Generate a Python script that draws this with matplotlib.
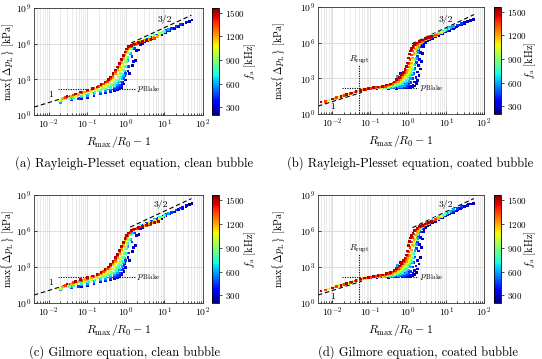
import matplotlib
matplotlib.use("Agg")
import matplotlib.pyplot as plt
from matplotlib.colors import Normalize
from matplotlib.ticker import LogLocator, NullFormatter, NullLocator, FixedLocator

plt.rcParams.update({
    "font.family": "serif",
    "font.serif": ["cmr10", "DejaVu Serif"],
    "mathtext.fontset": "cm",
    "axes.formatter.use_mathtext": True,
    "axes.unicode_minus": False,
})

# ---------------- data ----------------
FREQS = [250, 350, 450, 600, 750, 900, 1050, 1200, 1350, 1500]   # kHz
CBAR_TICKS = [300, 600, 900, 1200, 1500]
X_TICKS = [1e-2, 1e-1, 1e0, 1e1, 1e2]
Y_TICKS = [1e0, 1e3, 1e6, 1e9]
CAPTIONS = ["(a) Rayleigh-Plesset equation, clean bubble",
            "(b) Rayleigh-Plesset equation, coated bubble",
            "(c) Gilmore equation, clean bubble",
            "(d) Gilmore equation, coated bubble"]

# (a) Rayleigh-Plesset, clean bubble
a250_x = [0.1, 0.15, 0.22, 0.3, 0.4, 0.5, 0.6, 0.7, 0.8, 0.9, 1.0, 1.25, 1.5, 1.75, 2.2, 2.8, 3.6, 4.8, 6.3, 8.3, 11, 14, 18, 23, 29, 36, 44, 52]
a250_y = [30, 42, 58, 75, 95, 115, 140, 170, 220, 400, 900, 3e3, 1.5e4, 4e4, 3e5, 1e6, 1.7e6, 2.6e6, 3.9e6, 5.8e6, 8.8e6, 1.3e7, 1.9e7, 2.8e7, 4e7, 5.6e7, 7.6e7, 9.8e7]
a350_x = [0.07, 0.1, 0.15, 0.22, 0.3, 0.4, 0.5, 0.6, 0.7, 0.78, 0.85, 0.95, 1.15, 1.6, 1.9, 2.4, 3.1, 4, 5.3, 7, 9.5, 13, 17, 23, 30, 38]
a350_y = [25, 32, 45, 60, 78, 100, 125, 155, 200, 300, 600, 2e3, 5e3, 3e4, 2.5e5, 9e5, 1.6e6, 2.4e6, 3.6e6, 5.4e6, 8.5e6, 1.35e7, 2e7, 3.1e7, 4.6e7, 6.5e7]
a450_x = [0.04, 0.06, 0.1, 0.15, 0.22, 0.3, 0.4, 0.5, 0.6, 0.7, 0.8, 0.9, 1.0, 1.2, 1.45, 1.7, 2.1, 2.7, 3.5, 4.7, 6.2, 8, 11, 15, 20, 26]
a450_y = [18, 24, 36, 50, 68, 88, 115, 150, 200, 300, 550, 1200, 3e3, 1.2e4, 8e4, 4e5, 1e6, 1.6e6, 2.3e6, 3.5e6, 5.2e6, 7.5e6, 1.2e7, 1.9e7, 2.9e7, 4.3e7]
a600_x = [0.02, 0.04, 0.07, 0.1, 0.15, 0.22, 0.3, 0.4, 0.5, 0.6, 0.7, 0.8, 0.88, 0.96, 1.05, 1.15, 1.3, 1.5, 1.8, 2.3, 3, 4, 5.5, 7.5, 10, 13]
a600_y = [12, 22, 33, 45, 62, 85, 115, 160, 230, 350, 600, 1100, 2200, 5e3, 1.3e4, 4e4, 1.5e5, 4.5e5, 9e5, 1.45e6, 2.1e6, 3.1e6, 4.8e6, 7.5e6, 1.1e7, 1.6e7]
a750_x = [0.045, 0.07, 0.11, 0.16, 0.23, 0.31, 0.4, 0.5, 0.58, 0.66, 0.74, 0.82, 0.9, 0.98, 1.06, 1.15, 1.25, 1.4, 1.6, 1.9, 2.4, 3.1, 4.2, 5.6, 7.5, 10]
a750_y = [28, 40, 58, 80, 110, 150, 210, 320, 500, 850, 1500, 2800, 5500, 1.2e4, 3e4, 7e4, 1.6e5, 3.5e5, 6.5e5, 1e6, 1.5e6, 2.1e6, 3.1e6, 4.6e6, 7e6, 1.05e7]
a900_x = [0.022, 0.035, 0.055, 0.085, 0.13, 0.19, 0.26, 0.34, 0.42, 0.5, 0.58, 0.66, 0.74, 0.82, 0.9, 0.98, 1.07, 1.17, 1.3, 1.5, 1.8, 2.3, 3, 4, 5.5, 7.5, 9]
a900_y = [16, 25, 38, 58, 85, 120, 170, 240, 350, 550, 900, 1600, 3e3, 6e3, 1.3e4, 3e4, 7e4, 1.6e5, 3.5e5, 6.5e5, 1e6, 1.5e6, 2.1e6, 3e6, 4.5e6, 7e6, 8.5e6]
a1050_x = [0.019, 0.03, 0.05, 0.08, 0.12, 0.17, 0.23, 0.3, 0.37, 0.45, 0.53, 0.61, 0.69, 0.77, 0.85, 0.93, 1.02, 1.12, 1.25, 1.45, 1.8, 2.3, 3, 4, 5.5, 7.5]
a1050_y = [15, 24, 38, 60, 90, 130, 190, 290, 450, 750, 1300, 2500, 5e3, 1e4, 2.2e4, 5e4, 1.2e5, 2.8e5, 5e5, 8e5, 1.15e6, 1.55e6, 2.1e6, 2.9e6, 4.2e6, 6.2e6]
a1200_x = [0.024, 0.04, 0.06, 0.09, 0.13, 0.18, 0.24, 0.31, 0.38, 0.46, 0.54, 0.62, 0.7, 0.78, 0.87, 0.96, 1.06, 1.2, 1.4, 1.75, 2.3, 3, 4, 5.2, 6.5]
a1200_y = [22, 35, 55, 85, 130, 190, 290, 480, 800, 1500, 3e3, 6e3, 1.2e4, 2.5e4, 5.5e4, 1.2e5, 2.5e5, 4.5e5, 7e5, 1e6, 1.35e6, 1.8e6, 2.4e6, 3.2e6, 4e6]
a1350_x = [0.028, 0.045, 0.07, 0.1, 0.15, 0.2, 0.26, 0.33, 0.4, 0.47, 0.55, 0.63, 0.71, 0.8, 0.9, 1.0, 1.12, 1.3, 1.6, 2.0, 2.6, 3.4, 4.4, 5.5]
a1350_y = [30, 48, 75, 110, 170, 250, 400, 700, 1200, 2200, 4500, 9e3, 2e4, 4.5e4, 1e5, 2e5, 3.5e5, 6e5, 8.5e5, 1.1e6, 1.4e6, 1.8e6, 2.3e6, 2.9e6]
a1500_x = [0.03, 0.05, 0.066, 0.1, 0.14, 0.18, 0.23, 0.29, 0.35, 0.4, 0.47, 0.55, 0.62, 0.7, 0.78, 0.86, 0.95, 1.05, 1.2, 1.4, 1.7, 2.1, 2.7, 3.5, 4.5]
a1500_y = [38, 58, 85, 130, 180, 230, 350, 600, 1000, 1600, 3e3, 6e3, 1.1e4, 2.2e4, 4.5e4, 1e5, 2e5, 3.5e5, 5.5e5, 7.5e5, 9.5e5, 1.2e6, 1.5e6, 1.9e6, 2.4e6]

# (b) Rayleigh-Plesset, coated bubble
b250_x = [0.3, 0.5, 0.7, 0.9, 1.1, 1.3, 1.5, 1.65, 1.8, 1.95, 2.1, 2.25, 2.4, 2.6, 2.85, 3.2, 3.7, 4.4, 5.3, 6.5, 8, 10, 12.5, 15.5, 19.5, 24, 30, 37, 45, 52, 1.0, 1.02, 1.04]
b250_y = [140, 148, 155, 162, 170, 185, 230, 350, 700, 1800, 6e3, 2.5e4, 1.2e5, 5e5, 1e6, 1.4e6, 1.8e6, 2.4e6, 3.1e6, 4.2e6, 5.8e6, 8e6, 1.12e7, 1.55e7, 2.2e7, 3e7, 4.2e7, 5.7e7, 7.5e7, 8.6e7, 400, 1000, 2600]
b350_x = [0.15, 0.3, 0.5, 0.7, 0.9, 1.05, 1.2, 1.35, 1.5, 1.62, 1.75, 1.88, 2.0, 2.15, 2.3, 2.5, 2.75, 3.1, 3.6, 4.2, 5, 6, 7.3, 9, 11, 13.5, 16.5, 20.5, 25, 31, 38, 0.6, 0.62, 0.64]
b350_y = [140, 150, 158, 165, 172, 185, 210, 280, 500, 1200, 3500, 1.2e4, 4e4, 1.5e5, 4.5e5, 9e5, 1.3e6, 1.75e6, 2.3e6, 2.8e6, 3.6e6, 4.6e6, 6e6, 8e6, 1.07e7, 1.45e7, 1.95e7, 2.7e7, 3.6e7, 4.9e7, 6.5e7, 400, 1000, 2500]
b450_x = [0.1, 0.2, 0.3, 0.42, 0.55, 0.68, 0.8, 0.92, 1.04, 1.16, 1.28, 1.4, 1.52, 1.64, 1.76, 1.9, 2.05, 2.25, 2.5, 2.85, 3.3, 3.9, 4.7, 5.7, 7, 8.6, 10.5, 13, 16, 20, 25, 0.78, 0.8, 0.82]
b450_y = [135, 150, 158, 165, 172, 180, 195, 220, 280, 450, 1000, 2500, 7e3, 2.2e4, 7e4, 2.2e5, 5e5, 8.5e5, 1.2e6, 1.65e6, 2.2e6, 2.9e6, 3.8e6, 5e6, 6.7e6, 9e6, 1.22e7, 1.65e7, 2.25e7, 3.1e7, 4.3e7, 450, 1200, 3000]
b600_x = [0.06, 0.1, 0.16, 0.24, 0.34, 0.45, 0.56, 0.68, 0.8, 0.92, 1.04, 1.16, 1.28, 1.4, 1.52, 1.64, 1.76, 1.9, 2.05, 2.25, 2.5, 2.85, 3.3, 3.9, 4.7, 5.7, 7, 8.6, 10.5, 13, 16, 0.5, 0.52]
b600_y = [100, 138, 152, 160, 168, 178, 192, 215, 260, 350, 550, 1000, 2200, 5500, 1.5e4, 4.5e4, 1.4e5, 3.8e5, 7e5, 1e6, 1.35e6, 1.8e6, 2.4e6, 3.2e6, 4.2e6, 5.5e6, 7.4e6, 9.8e6, 1.32e7, 1.8e7, 2.45e7, 500, 1400]
b750_x = [0.04, 0.07, 0.1, 0.15, 0.22, 0.3, 0.4, 0.5, 0.6, 0.7, 0.8, 0.9, 1.0, 1.1, 1.2, 1.3, 1.4, 1.5, 1.62, 1.75, 1.9, 2.1, 2.35, 2.7, 3.1, 3.7, 4.4, 5.3, 6.5, 8, 10, 12]
b750_y = [70, 115, 140, 155, 165, 178, 195, 225, 270, 350, 480, 700, 1000, 1600, 2800, 5500, 1.3e4, 4e4, 1.2e5, 3e5, 6e5, 9.5e5, 1.3e6, 1.75e6, 2.25e6, 2.95e6, 3.8e6, 4.9e6, 6.5e6, 8.7e6, 1.18e7, 1.55e7]
b900_x = [0.02, 0.035, 0.06, 0.09, 0.13, 0.18, 0.25, 0.33, 0.42, 0.52, 0.62, 0.72, 0.82, 0.92, 1.0, 1.08, 1.16, 1.24, 1.33, 1.43, 1.55, 1.7, 1.9, 2.15, 2.5, 2.95, 3.5, 4.2, 5.1, 6.2, 7.6, 9.3]
b900_y = [35, 60, 100, 130, 148, 162, 180, 205, 245, 310, 420, 600, 900, 1300, 1800, 2600, 4000, 6500, 1.3e4, 4e4, 1.3e5, 3.6e5, 7e5, 1.05e6, 1.5e6, 2e6, 2.6e6, 3.4e6, 4.5e6, 6e6, 7.9e6, 1.05e7]
b1050_x = [0.008, 0.015, 0.025, 0.038, 0.055, 0.08, 0.11, 0.15, 0.2, 0.27, 0.35, 0.44, 0.53, 0.62, 0.71, 0.8, 0.88, 0.96, 1.03, 1.1, 1.17, 1.25, 1.34, 1.45, 1.6, 1.8, 2.05, 2.4, 2.85, 3.4, 4.1, 5, 6.1, 7.5]
b1050_y = [15, 27, 44, 68, 95, 125, 145, 160, 175, 200, 240, 300, 400, 550, 780, 1150, 1700, 2500, 3700, 5500, 9000, 1.6e4, 3.5e4, 9e4, 2.6e5, 6e5, 9.5e5, 1.35e6, 1.8e6, 2.35e6, 3.1e6, 4.1e6, 5.4e6, 7.2e6]
b1200_x = [0.012, 0.02, 0.03, 0.045, 0.065, 0.09, 0.13, 0.18, 0.24, 0.31, 0.39, 0.47, 0.55, 0.64, 0.73, 0.82, 0.91, 1.0, 1.1, 1.2, 1.3, 1.42, 1.56, 1.75, 2.0, 2.35, 2.8, 3.4, 4.2, 5.2, 6.4]
b1200_y = [21, 35, 52, 80, 110, 135, 150, 170, 195, 235, 300, 400, 560, 800, 1200, 1900, 3e3, 5e3, 9e3, 2e4, 5e4, 1.3e5, 3e5, 5.5e5, 8.5e5, 1.2e6, 1.65e6, 2.2e6, 3e6, 4e6, 5.3e6]
b1350_x = [0.0065, 0.013, 0.021, 0.03, 0.04, 0.055, 0.075, 0.1, 0.14, 0.19, 0.25, 0.32, 0.4, 0.48, 0.56, 0.64, 0.72, 0.8, 0.88, 0.96, 1.04, 1.12, 1.2, 1.3, 1.42, 1.58, 1.8, 2.1, 2.5, 3, 3.6, 4.4, 5.3]
b1350_y = [12, 23, 37, 53, 70, 95, 120, 140, 160, 185, 220, 280, 380, 530, 800, 1200, 1900, 3e3, 5e3, 9e3, 1.8e4, 4e4, 9e4, 2e5, 3.8e5, 6.3e5, 9e5, 1.2e6, 1.6e6, 2.1e6, 2.7e6, 3.4e6, 4.3e6]
b1500_x = [0.005, 0.01, 0.017, 0.024, 0.032, 0.042, 0.055, 0.07, 0.09, 0.12, 0.16, 0.21, 0.27, 0.34, 0.42, 0.5, 0.58, 0.66, 0.74, 0.82, 0.9, 0.97, 1.04, 1.1, 1.17, 1.25, 1.35, 1.5, 1.7, 2.0, 2.4, 2.9, 3.5, 4.2]
b1500_y = [10, 18, 29, 42, 57, 78, 100, 120, 140, 160, 185, 220, 280, 330, 480, 750, 1200, 2000, 3300, 5500, 1e4, 2e4, 5e4, 1.1e5, 2e5, 3.2e5, 5e5, 7e5, 9.5e5, 1.25e6, 1.65e6, 2.1e6, 2.6e6, 3.2e6]

# (c) Gilmore, clean bubble
c250_x = [0.1, 0.15, 0.22, 0.3, 0.4, 0.5, 0.6, 0.7, 0.8, 0.9, 1.0, 1.25, 1.5, 1.75, 2.2, 2.8, 3.6, 4.8, 6.3, 8.3, 11, 14, 18, 23, 29, 36, 44, 52]
c250_y = [30, 42, 58, 75, 95, 115, 140, 170, 220, 400, 900, 3500, 2e4, 6e4, 5e5, 1.8e6, 3.2e6, 5e6, 7.6e6, 1.15e7, 1.75e7, 2.6e7, 3.8e7, 5.6e7, 8e7, 1.12e8, 1.52e8, 1.95e8]
c350_x = [0.07, 0.1, 0.15, 0.22, 0.3, 0.4, 0.5, 0.6, 0.7, 0.78, 0.85, 0.95, 1.15, 1.6, 1.9, 2.4, 3.1, 4, 5.3, 7, 9.5, 13, 17, 23, 30, 38]
c350_y = [25, 32, 45, 60, 78, 100, 125, 155, 200, 300, 600, 2e3, 6e3, 4e4, 4e5, 1.6e6, 2.9e6, 4.5e6, 6.8e6, 1.03e7, 1.6e7, 2.6e7, 3.9e7, 6e7, 9e7, 1.27e8]
c450_x = [0.04, 0.06, 0.1, 0.15, 0.22, 0.3, 0.4, 0.5, 0.6, 0.7, 0.8, 0.9, 1.0, 1.2, 1.45, 1.7, 2.1, 2.7, 3.5, 4.7, 6.2, 8, 11, 15, 20, 26]
c450_y = [18, 24, 36, 50, 68, 88, 115, 150, 200, 300, 550, 1300, 3500, 1.5e4, 1.2e5, 7e5, 1.8e6, 2.9e6, 4.3e6, 6.6e6, 9.8e6, 1.43e7, 2.3e7, 3.6e7, 5.6e7, 8.3e7]
c600_x = [0.02, 0.04, 0.07, 0.1, 0.15, 0.22, 0.3, 0.4, 0.5, 0.6, 0.7, 0.8, 0.88, 0.96, 1.05, 1.15, 1.3, 1.5, 1.8, 2.3, 3, 4, 5.5, 7.5, 10, 13]
c600_y = [12, 22, 33, 45, 62, 85, 115, 160, 230, 350, 600, 1100, 2300, 5500, 1.5e4, 5e4, 2e5, 7e5, 1.6e6, 2.6e6, 3.8e6, 5.7e6, 8.8e6, 1.38e7, 2.05e7, 3e7]
c750_x = [0.045, 0.07, 0.11, 0.16, 0.23, 0.31, 0.4, 0.5, 0.58, 0.66, 0.74, 0.82, 0.9, 0.98, 1.06, 1.15, 1.25, 1.4, 1.6, 1.9, 2.4, 3.1, 4.2, 5.6, 7.5, 10]
c750_y = [28, 40, 58, 80, 110, 150, 210, 320, 500, 850, 1500, 2900, 6e3, 1.4e4, 3.5e4, 9e4, 2.2e5, 5.5e5, 1.1e6, 1.8e6, 2.7e6, 3.8e6, 5.6e6, 8.3e6, 1.27e7, 1.9e7]
c900_x = [0.022, 0.035, 0.055, 0.085, 0.13, 0.19, 0.26, 0.34, 0.42, 0.5, 0.58, 0.66, 0.74, 0.82, 0.9, 0.98, 1.07, 1.17, 1.3, 1.5, 1.8, 2.3, 3, 4, 5.5, 7.5, 9]
c900_y = [16, 25, 38, 58, 85, 120, 170, 240, 350, 550, 900, 1600, 3e3, 6500, 1.4e4, 3.3e4, 8e4, 2e5, 4.8e5, 1e6, 1.7e6, 2.6e6, 3.7e6, 5.3e6, 8e6, 1.23e7, 1.5e7]
c1050_x = [0.019, 0.03, 0.05, 0.08, 0.12, 0.17, 0.23, 0.3, 0.37, 0.45, 0.53, 0.61, 0.69, 0.77, 0.85, 0.93, 1.02, 1.12, 1.25, 1.45, 1.8, 2.3, 3, 4, 5.5, 7.5]
c1050_y = [15, 24, 38, 60, 90, 130, 190, 290, 450, 750, 1300, 2500, 5e3, 1.1e4, 2.4e4, 5.5e4, 1.4e5, 3.5e5, 7e5, 1.2e6, 1.8e6, 2.5e6, 3.4e6, 4.7e6, 6.8e6, 1e7]
c1200_x = [0.024, 0.04, 0.06, 0.09, 0.13, 0.18, 0.24, 0.31, 0.38, 0.46, 0.54, 0.62, 0.7, 0.78, 0.87, 0.96, 1.06, 1.2, 1.4, 1.75, 2.3, 3, 4, 5.2, 6.5]
c1200_y = [22, 35, 55, 85, 130, 190, 290, 480, 800, 1500, 3e3, 6e3, 1.2e4, 2.7e4, 6e4, 1.4e5, 3e5, 6e5, 1e6, 1.5e6, 2.1e6, 2.8e6, 3.8e6, 5e6, 6.3e6]
c1350_x = [0.028, 0.045, 0.07, 0.1, 0.15, 0.2, 0.26, 0.33, 0.4, 0.47, 0.55, 0.63, 0.71, 0.8, 0.9, 1.0, 1.12, 1.3, 1.6, 2.0, 2.6, 3.4, 4.4, 5.5, 6.8]
c1350_y = [30, 48, 75, 110, 170, 250, 400, 700, 1200, 2200, 4500, 9e3, 2e4, 4.8e4, 1.1e5, 2.3e5, 4.5e5, 8e5, 1.25e6, 1.7e6, 2.2e6, 2.9e6, 3.7e6, 4.6e6, 5.6e6]
c1500_x = [0.03, 0.05, 0.066, 0.1, 0.14, 0.18, 0.23, 0.29, 0.35, 0.4, 0.47, 0.55, 0.62, 0.7, 0.78, 0.86, 0.95, 1.05, 1.2, 1.4, 1.7, 2.1, 2.7, 3.5, 4.5, 5.5, 7]
c1500_y = [38, 58, 85, 130, 180, 230, 350, 600, 1000, 1600, 3e3, 6e3, 1.1e4, 2.3e4, 5e4, 1.1e5, 2.3e5, 4.2e5, 7e5, 1.05e6, 1.45e6, 1.9e6, 2.5e6, 3.2e6, 4e6, 4.8e6, 6e6]

# (d) Gilmore, coated bubble
d250_x = [0.3, 0.5, 0.7, 0.9, 1.1, 1.3, 1.5, 1.65, 1.8, 1.95, 2.1, 2.25, 2.4, 2.6, 2.85, 3.2, 3.7, 4.4, 5.3, 6.5, 8, 10, 12.5, 15.5, 19.5, 24, 30, 37, 45, 52, 1.0, 1.02, 1.04]
d250_y = [140, 148, 155, 162, 170, 185, 230, 350, 700, 1800, 6e3, 4.5e4, 2.2e5, 9.5e5, 1.9e6, 2.7e6, 3.5e6, 4.8e6, 6.5e6, 9e6, 1.28e7, 1.84e7, 2.6e7, 3.7e7, 5.3e7, 7.2e7, 1e8, 1.37e8, 1.8e8, 2.06e8, 400, 1000, 2600]
d350_x = [0.15, 0.3, 0.5, 0.7, 0.9, 1.05, 1.2, 1.35, 1.5, 1.62, 1.75, 1.88, 2.0, 2.15, 2.3, 2.5, 2.75, 3.1, 3.6, 4.2, 5, 6, 7.3, 9, 11, 13.5, 16.5, 20.5, 25, 31, 38, 0.6, 0.62, 0.64]
d350_y = [140, 150, 158, 165, 172, 185, 210, 280, 500, 1200, 3500, 2.1e4, 7.2e4, 2.7e5, 8.3e5, 1.7e6, 2.5e6, 3.3e6, 4.5e6, 5.6e6, 7.6e6, 9.9e6, 1.32e7, 1.84e7, 2.5e7, 3.4e7, 4.7e7, 6.5e7, 8.6e7, 1.18e8, 1.56e8, 400, 1000, 2500]
d450_x = [0.1, 0.2, 0.3, 0.42, 0.55, 0.68, 0.8, 0.92, 1.04, 1.16, 1.28, 1.4, 1.52, 1.64, 1.76, 1.9, 2.05, 2.25, 2.5, 2.85, 3.3, 3.9, 4.7, 5.7, 7, 8.6, 10.5, 13, 16, 20, 25, 0.78, 0.8, 0.82]
d450_y = [135, 150, 158, 165, 172, 180, 195, 220, 280, 450, 1000, 2500, 7e3, 3.5e4, 1.2e5, 3.9e5, 9e5, 1.57e6, 2.3e6, 3.1e6, 4.3e6, 5.8e6, 7.8e6, 1.05e7, 1.47e7, 2e7, 2.8e7, 3.9e7, 5.4e7, 7.4e7, 1.03e8, 450, 1200, 3000]
d600_x = [0.06, 0.1, 0.16, 0.24, 0.34, 0.45, 0.56, 0.68, 0.8, 0.92, 1.04, 1.16, 1.28, 1.4, 1.52, 1.64, 1.76, 1.9, 2.05, 2.25, 2.5, 2.85, 3.3, 3.9, 4.7, 5.7, 7, 8.6, 10.5, 13, 16, 0.5, 0.52]
d600_y = [100, 138, 152, 160, 168, 178, 192, 215, 260, 350, 550, 1000, 2200, 5500, 2.3e4, 7.2e4, 2.4e5, 6.6e5, 1.26e6, 1.85e6, 2.6e6, 3.4e6, 4.7e6, 6.4e6, 8.6e6, 1.16e7, 1.63e7, 2.2e7, 3e7, 4.2e7, 5.9e7, 500, 1400]
d750_x = [0.04, 0.07, 0.1, 0.15, 0.22, 0.3, 0.4, 0.5, 0.6, 0.7, 0.8, 0.9, 1.0, 1.1, 1.2, 1.3, 1.4, 1.5, 1.62, 1.75, 1.9, 2.1, 2.35, 2.7, 3.1, 3.7, 4.4, 5.3, 6.5, 8, 10, 12]
d750_y = [70, 115, 140, 155, 165, 178, 195, 225, 270, 350, 480, 700, 1000, 1600, 2800, 5500, 1.3e4, 6e4, 1.9e5, 5.1e5, 1.05e6, 1.7e6, 2.4e6, 3.3e6, 4.3e6, 5.8e6, 7.6e6, 1.03e7, 1.4e7, 1.9e7, 2.7e7, 3.6e7]
d900_x = [0.02, 0.035, 0.06, 0.09, 0.13, 0.18, 0.25, 0.33, 0.42, 0.52, 0.62, 0.72, 0.82, 0.92, 1.0, 1.08, 1.16, 1.24, 1.33, 1.43, 1.55, 1.7, 1.9, 2.15, 2.5, 2.95, 3.5, 4.2, 5.1, 6.2, 7.6, 9.3]
d900_y = [35, 60, 100, 130, 148, 162, 180, 205, 245, 310, 420, 600, 900, 1300, 1800, 2600, 4000, 6500, 1.3e4, 5.8e4, 2e5, 6.1e5, 1.26e6, 1.95e6, 2.85e6, 3.8e6, 5.1e6, 6.8e6, 9.5e6, 1.29e7, 1.74e7, 2.4e7]
d1050_x = [0.008, 0.015, 0.025, 0.038, 0.055, 0.08, 0.11, 0.15, 0.2, 0.27, 0.35, 0.44, 0.53, 0.62, 0.71, 0.8, 0.88, 0.96, 1.03, 1.1, 1.17, 1.25, 1.34, 1.45, 1.6, 1.8, 2.05, 2.4, 2.85, 3.4, 4.1, 5, 6.1, 7.5]
d1050_y = [15, 27, 44, 68, 95, 125, 145, 160, 175, 200, 240, 300, 400, 550, 780, 1150, 1700, 2500, 3700, 5500, 9000, 2.1e4, 4.9e4, 1.3e5, 4e5, 1.05e6, 1.7e6, 2.5e6, 3.4e6, 4.6e6, 6.2e6, 8.6e6, 1.16e7, 1.58e7]
d1200_x = [0.012, 0.02, 0.03, 0.045, 0.065, 0.09, 0.13, 0.18, 0.24, 0.31, 0.39, 0.47, 0.55, 0.64, 0.73, 0.82, 0.91, 1.0, 1.1, 1.2, 1.3, 1.42, 1.56, 1.75, 2.0, 2.35, 2.8, 3.4, 4.2, 5.2, 6.4]
d1200_y = [21, 35, 52, 80, 110, 135, 150, 170, 195, 235, 300, 400, 560, 800, 1200, 1900, 3e3, 5e3, 9e3, 2.6e4, 6.8e4, 1.9e5, 4.6e5, 9.4e5, 1.5e6, 2.2e6, 3.1e6, 4.3e6, 6e6, 8.4e6, 1.14e7]
d1350_x = [0.0065, 0.013, 0.021, 0.03, 0.04, 0.055, 0.075, 0.1, 0.14, 0.19, 0.25, 0.32, 0.4, 0.48, 0.56, 0.64, 0.72, 0.8, 0.88, 0.96, 1.04, 1.12, 1.2, 1.3, 1.42, 1.58, 1.8, 2.1, 2.5, 3, 3.6, 4.4, 5.3]
d1350_y = [12, 23, 37, 53, 70, 95, 120, 140, 160, 185, 220, 280, 380, 530, 800, 1200, 1900, 3e3, 5e3, 9e3, 1.8e4, 4e4, 1.2e5, 2.7e5, 5.5e5, 1e6, 1.6e6, 2.2e6, 3e6, 4e6, 5.4e6, 6.8e6, 9e6]
d1500_x = [0.005, 0.01, 0.017, 0.024, 0.032, 0.042, 0.055, 0.07, 0.09, 0.12, 0.16, 0.21, 0.27, 0.34, 0.42, 0.5, 0.58, 0.66, 0.74, 0.82, 0.9, 0.97, 1.04, 1.1, 1.17, 1.25, 1.35, 1.5, 1.7, 2.0, 2.4, 2.9, 3.5, 4.2]
d1500_y = [10, 18, 29, 42, 57, 78, 100, 120, 140, 160, 185, 220, 280, 330, 480, 750, 1200, 2000, 3300, 5500, 1e4, 2.2e4, 6e4, 1.4e5, 2.6e5, 4.3e5, 7e5, 1.1e6, 1.7e6, 2.3e6, 3e6, 3.9e6, 5e6, 6.2e6]

# reference (guide) lines of each panel
a_slope1_x, a_slope1_y = [4.2e-3, 0.08], [4.6, 88]
a_slope32_x, a_slope32_y = [1.37, 50], [1.12e6, 2.47e8]
c_slope1_x, c_slope1_y = [4.2e-3, 0.08], [4.6, 88]
c_slope32_x, c_slope32_y = [1.3, 50], [2.1e6, 5.0e8]
b_slope1_x, b_slope1_y = [4.2e-3, 0.06], [4.6, 66]
b_slope32_x, b_slope32_y = [1.25, 55], [8e5, 2.33e8]
d_slope1_x, d_slope1_y = [4.2e-3, 0.06], [4.6, 66]
d_slope32_x, d_slope32_y = [1.3, 54], [1.9e6, 5.1e8]
blake_x, blake_y = [0.018, 1.8], [140, 140]
rupt_x, rupt_y = [0.05, 0.05], [1.3, 1.3e4]

A_SERIES = [(250, a250_x, a250_y), (350, a350_x, a350_y), (450, a450_x, a450_y), (600, a600_x, a600_y),
            (750, a750_x, a750_y), (900, a900_x, a900_y), (1050, a1050_x, a1050_y), (1200, a1200_x, a1200_y),
            (1350, a1350_x, a1350_y), (1500, a1500_x, a1500_y)]
B_SERIES = [(250, b250_x, b250_y), (350, b350_x, b350_y), (450, b450_x, b450_y), (600, b600_x, b600_y),
            (750, b750_x, b750_y), (900, b900_x, b900_y), (1050, b1050_x, b1050_y), (1200, b1200_x, b1200_y),
            (1350, b1350_x, b1350_y), (1500, b1500_x, b1500_y)]
C_SERIES = [(250, c250_x, c250_y), (350, c350_x, c350_y), (450, c450_x, c450_y), (600, c600_x, c600_y),
            (750, c750_x, c750_y), (900, c900_x, c900_y), (1050, c1050_x, c1050_y), (1200, c1200_x, c1200_y),
            (1350, c1350_x, c1350_y), (1500, c1500_x, c1500_y)]
D_SERIES = [(250, d250_x, d250_y), (350, d350_x, d350_y), (450, d450_x, d450_y), (600, d600_x, d600_y),
            (750, d750_x, d750_y), (900, d900_x, d900_y), (1050, d1050_x, d1050_y), (1200, d1200_x, d1200_y),
            (1350, d1350_x, d1350_y), (1500, d1500_x, d1500_y)]

# ---------------- figure ----------------
W, H = 542, 359
fig = plt.figure(figsize=(W / 100, H / 100), dpi=100)
norm = Normalize(vmin=205, vmax=1560)


def px_axes(l, t, r, b):
    return fig.add_axes([l / W, 1 - b / H, (r - l) / W, (b - t) / H])


def panel(ax_box, cax_box, series, s1, s32, rupt, lab1, lab32, blake_lab, caption, cap_xy,
          ylab_right, cbar_lab_left):
    ax = px_axes(*ax_box)
    ax.set_xscale("log")
    ax.set_yscale("log")
    sc = None
    for f, xs, ys in series:
        sc = ax.scatter(xs, ys, c=[f] * len(xs), cmap="jet", norm=norm, marker="s",
                        s=3.8, linewidths=0, zorder=3)
    ax.plot(s1[0], s1[1], color="k", ls=(0, (4, 2.5)), lw=0.8, zorder=2)
    ax.plot(s32[0], s32[1], color="k", ls=(0, (4, 2.5)), lw=0.8, zorder=2)
    ax.plot(blake_x, blake_y, color="k", ls=(0, (1, 1.2)), lw=0.8, zorder=2)
    ax.text(lab1[0], lab1[1], "1", fontsize=7, ha="center", va="center")
    ax.text(lab32[0], lab32[1], "3/2", fontsize=7, ha="center", va="center")
    ax.text(blake_lab[0], blake_lab[1], r"$p_{\mathrm{Blake}}$", fontsize=7, ha="left", va="center")
    if rupt:
        ax.plot(rupt_x, rupt_y, color="k", ls=(0, (1, 1.2)), lw=0.8, zorder=2)
        ax.text(rupt_x[0], 3.5e4, r"$R_{\mathrm{rupt}}$", fontsize=6.5, ha="center", va="center")
    ax.set_xlim(4.2e-3, 1e2)
    ax.set_ylim(1, 1e9)
    ax.xaxis.set_major_locator(FixedLocator(X_TICKS))
    ax.xaxis.set_minor_locator(LogLocator(base=10, subs=range(2, 10), numticks=20))
    ax.xaxis.set_minor_formatter(NullFormatter())
    ax.yaxis.set_major_locator(FixedLocator(Y_TICKS))
    ax.yaxis.set_minor_locator(NullLocator())
    ax.set_axisbelow(True)
    ax.grid(True, which="major", color="#d8d8d8", lw=0.6)
    ax.grid(True, which="minor", axis="x", color="#e2e2e2", lw=0.5)
    ax.tick_params(which="both", direction="in", labelsize=7, length=2.5, width=0.5, pad=2)
    ax.tick_params(which="minor", length=1.5)
    for sp in ax.spines.values():
        sp.set_linewidth(0.6)
        sp.set_color("#333333")
    ax.set_xlabel(r"$R_{\max}/R_0-1$", fontsize=8.5, labelpad=2)
    ax.set_ylabel(r"$\max\{\,\Delta p_{\mathrm{L}}\,\}$ [kPa]", fontsize=7.2)
    l, t, r, b = ax_box
    ax.yaxis.set_label_coords((ylab_right - l) / (r - l), 0.5)

    cax = px_axes(*cax_box)
    cb = fig.colorbar(sc, cax=cax, ticks=CBAR_TICKS)
    cb.outline.set_linewidth(0.6)
    cax.tick_params(labelsize=6.5, length=2, width=0.5, pad=2)
    cb.set_label(r"$f_{\mathrm{a}}$ [kHz]", fontsize=7.5)
    cl, ct, cr, cbt = cax_box
    cax.yaxis.set_label_coords((cbar_lab_left - cl) / (cr - cl), 0.5)

    fig.text(cap_xy[0] / W, 1 - cap_xy[1] / H, caption, fontsize=9, ha="center", va="center")


panel((34, 8, 203, 115), (212, 8, 219, 115), A_SERIES,
      (a_slope1_x, a_slope1_y), (a_slope32_x, a_slope32_y), False,
      (0.011, 55), (10, 1e8), (1.9, 140), CAPTIONS[0], (134, 163), 16, 243)
panel((318, 7, 484, 114), (494, 7, 501, 114), B_SERIES,
      (b_slope1_x, b_slope1_y), (b_slope32_x, b_slope32_y), True,
      (0.0104, 3.7), (10, 9e7), (2.1, 140), CAPTIONS[1], (410, 163), 287, 523)
panel((34, 195, 203, 303), (212, 195, 219, 303), C_SERIES,
      (c_slope1_x, c_slope1_y), (c_slope32_x, c_slope32_y), False,
      (0.011, 45), (8.3, 1.7e8), (1.9, 140), CAPTIONS[2], (125, 352), 16, 243)
panel((318, 195, 484, 303), (494, 195, 501, 303), D_SERIES,
      (d_slope1_x, d_slope1_y), (d_slope32_x, d_slope32_y), True,
      (0.0104, 3.2), (10, 1.7e8), (2.1, 140), CAPTIONS[3], (418, 352), 287, 523)

fig.savefig("out.png", dpi=100)
